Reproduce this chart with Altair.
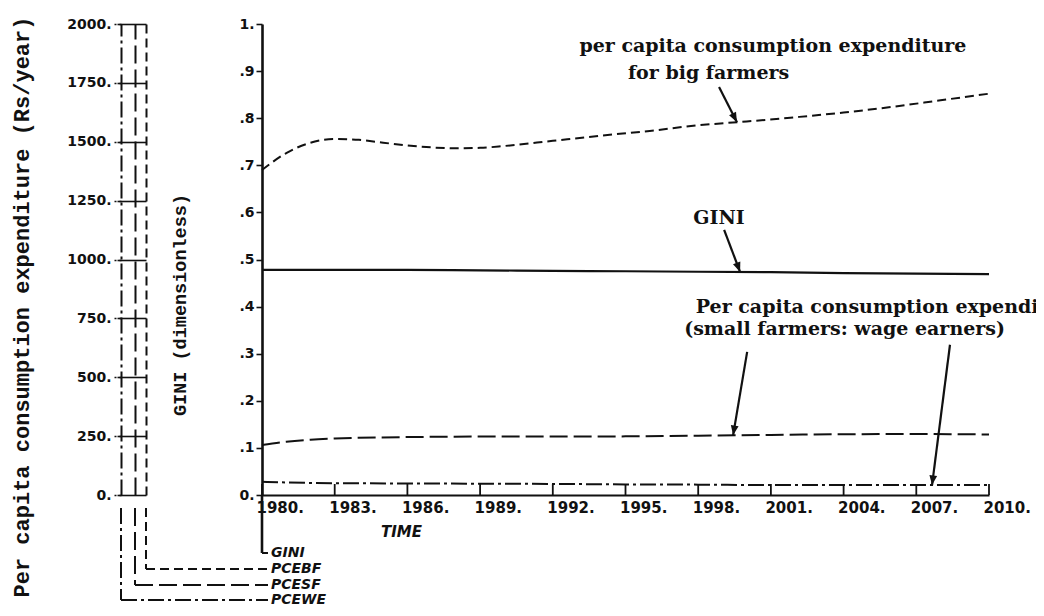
import math
import numpy as np
import pandas as pd
import altair as alt

# ---------------- data ----------------
pcebf_years = [1980, 1981, 1982, 1983, 1984, 1985, 1986, 1987, 1988, 1989, 1990,
               1992, 1994, 1996, 1998, 2000, 2002, 2004, 2006, 2008, 2010]
pcebf = [1380, 1452, 1496, 1512, 1508, 1496, 1484, 1476, 1472, 1474, 1482,
         1504, 1526, 1546, 1570, 1586, 1604, 1624, 1648, 1676, 1704]

pcesf_years = [1980, 1981, 1982, 1983, 1986, 1989, 1992, 1995, 1998, 2001, 2004, 2007, 2010]
pcesf = [212, 226, 235, 240, 246, 248, 248, 249, 252, 255, 258, 259, 257]

pcewe_years = [1980, 1983, 1986, 1989, 1992, 1995, 1998, 2001, 2004, 2007, 2010]
pcewe = [56, 50, 49, 48, 47, 45, 44, 42, 42, 42, 43]

gini_years = [1980, 1983, 1986, 1989, 1992, 1995, 1998, 2001, 2004, 2007, 2010]
gini = [0.478, 0.478, 0.478, 0.477, 0.476, 0.475, 0.474, 0.473, 0.471, 0.470, 0.469]

time_ticks = [1980, 1983, 1986, 1989, 1992, 1995, 1998, 2001, 2004, 2007, 2010]
gini_ticks = [0, 0.1, 0.2, 0.3, 0.4, 0.5, 0.6, 0.7, 0.8, 0.9, 1.0]
pce_ticks = [0, 250, 500, 750, 1000, 1250, 1500, 1750, 2000]
series_names = ["PCEBF", "PCESF", "PCEWE"]
legend_names = ["GINI", "PCEBF", "PCESF", "PCEWE"]

title_pce = "Per capita consumption expenditure (Rs/year)"
title_gini = "GINI (dimensionless)"
note_big = ["per capita consumption expenditure", "for big farmers"]
note_gini = "GINI"
note_small = ["Per capita consumption expenditure", "(small farmers:  wage earners)"]

# ---------------- layout / style ----------------
W, H = 727, 471
PAD = {"left": 254, "top": 16, "right": 47, "bottom": 113}
PX_YR = W / (2010 - 1980)
INK = "#111111"
LABEL_FONT = "DejaVu Sans"
TYPE_FONT = "DejaVu Serif"
MONO_FONT = "Liberation Mono"
DASH = {"PCEBF": [9, 5], "PCESF": [18, 6], "PCEWE": [16, 4, 3, 4]}
AX_OFF = {"PCEWE": 141, "PCESF": 127, "PCEBF": 116}

time_scale = alt.Scale(domain=[1980, 2010], nice=False, zero=False)
pce_scale = alt.Scale(domain=[0, 2000], nice=False, zero=False)
gini_scale = alt.Scale(domain=[0, 1], nice=False, zero=False)
X = alt.X("year:Q", scale=time_scale, axis=None)

pce_df = pd.concat([
    pd.DataFrame({"year": pcebf_years, "rs": pcebf, "series": "PCEBF"}),
    pd.DataFrame({"year": pcesf_years, "rs": pcesf, "series": "PCESF"}),
    pd.DataFrame({"year": pcewe_years, "rs": pcewe, "series": "PCEWE"}),
], ignore_index=True)
gini_df = pd.DataFrame({"year": gini_years, "gini": gini})


def lab_axis(**kw):
    base = dict(orient="left", grid=False, title=None, domainColor=INK, tickColor=INK,
                labelColor=INK, labelFont=LABEL_FONT, labelFontWeight="bold",
                labelFontSize=14, labelFlush=False, labelOverlap=False)
    base.update(kw)
    return alt.Axis(**base)


# PCE lines with the dash-dot scale column (labels)
pce_lines = alt.Chart(pce_df).mark_line(strokeWidth=2, color=INK, interpolate="monotone").encode(
    x=X,
    y=alt.Y("rs:Q", scale=pce_scale, axis=lab_axis(
        offset=AX_OFF["PCEWE"], values=pce_ticks,
        labelExpr="format(datum.value, 'd') + '.'",
        domainWidth=2, domainDash=DASH["PCEWE"],
        ticks=True, tickSize=8, tickWidth=1.5, tickDash=[2, 3], labelPadding=2)),
    strokeDash=alt.StrokeDash("series:N", scale=alt.Scale(domain=series_names,
                              range=[DASH[s] for s in series_names]), legend=None),
    detail="series:N",
)

col_sf = alt.Chart(pce_df).mark_line(strokeOpacity=0).encode(
    x=X,
    y=alt.Y("rs:Q", scale=pce_scale, axis=lab_axis(
        offset=AX_OFF["PCESF"], values=pce_ticks, labels=False, ticks=False,
        domainWidth=2, domainDash=DASH["PCESF"])),
    detail="series:N",
)
col_bf = alt.Chart(pce_df).mark_line(strokeOpacity=0).encode(
    x=X,
    y=alt.Y("rs:Q", scale=pce_scale, axis=lab_axis(
        offset=AX_OFF["PCEBF"], values=pce_ticks, labels=False,
        ticks=True, tickSize=29, tickWidth=1.6,
        domainWidth=2, domainDash=DASH["PCEBF"])),
    detail="series:N",
)

gini_line = alt.Chart(gini_df).mark_line(strokeWidth=2.2, color=INK, interpolate="monotone").encode(
    x=alt.X("year:Q", scale=time_scale, axis=alt.Axis(
        orient="bottom", values=time_ticks, labelExpr="datum.value + '.'", grid=False,
        ticks=False, domainColor=INK, domainWidth=2, labelColor=INK,
        labelFont=LABEL_FONT, labelFontWeight="bold", labelFontSize=15,
        labelAlign="left", labelOffset=-6, labelBaseline="top", labelPadding=5,
        labelFlush=False, labelOverlap=False,
        title="TIME", titleX=139, titleY=36, titleAlign="center", titleBaseline="middle",
        titleFont=LABEL_FONT, titleFontStyle="italic", titleFontWeight="bold",
        titleFontSize=15, titleColor=INK)),
    y=alt.Y("gini:Q", scale=gini_scale, axis=lab_axis(
        offset=0, values=gini_ticks,
        labelExpr="datum.value == 1 ? '1.' : (datum.value == 0 ? '0.' : '.' + format(datum.value * 10, '.0f'))",
        domainWidth=2.6, ticks=True, tickSize=6, tickWidth=1.6, labelPadding=2)),
)

# upward time ticks on the time axis
time_tick_marks = alt.Chart(pd.DataFrame({"year": time_ticks})).mark_rule(
    color=INK, strokeWidth=1.8).encode(x=X, y=alt.value(H), y2=alt.value(H - 11))

# annotations (positions in data units)
ann_left = pd.DataFrame({
    "text": [note_big[0], note_big[1], note_small[0], note_small[1]],
    "year": [1993.1, 1995.1, 1997.9, 1997.42],
    "val": [0.953, 0.897, 0.400, 0.352],
})
ann_center = pd.DataFrame({"text": [note_gini], "year": [1998.86], "val": [0.588]})

text_left = alt.Chart(ann_left).mark_text(
    align="left", baseline="middle", font=TYPE_FONT, fontWeight="bold", fontSize=19, color=INK
).encode(x=X, y=alt.Y("val:Q", scale=gini_scale, axis=None), text="text:N")
text_center = alt.Chart(ann_center).mark_text(
    align="center", baseline="middle", font=TYPE_FONT, fontWeight="bold", fontSize=19, color=INK
).encode(x=X, y=alt.Y("val:Q", scale=gini_scale, axis=None), text="text:N")

# arrow tips sit on the series they point to
tip_years = [1999.60, 1999.73, 1999.44, 2007.65]
tip_vals = [
    float(np.interp(tip_years[0], pcebf_years, pcebf)) / 2000,
    float(np.interp(tip_years[1], gini_years, gini)),
    float(np.interp(tip_years[2], pcesf_years, pcesf)) / 2000,
    float(np.interp(tip_years[3], pcewe_years, pcewe)) / 2000,
]
arrows = pd.DataFrame({
    "year": [1998.86, 1999.07, 2000.02, 2008.39],
    "val": [0.866, 0.563, 0.304, 0.319],
    "year2": tip_years,
    "val2": tip_vals,
})
angles = []
for _, r in arrows.iterrows():
    dxp = (r["year2"] - r["year"]) * PX_YR
    dyp = -(r["val2"] - r["val"]) * H
    angles.append(math.degrees(math.atan2(-dxp, dyp)) % 360)
arrows["ang"] = angles

arrow_shafts = alt.Chart(arrows).mark_rule(color=INK, strokeWidth=2.2).encode(
    x=X, x2="year2:Q",
    y=alt.Y("val:Q", scale=gini_scale, axis=None), y2="val2:Q")
arrow_heads = alt.Chart(arrows).mark_point(
    shape="M0,0L-0.4,-1L0.4,-1Z", filled=True, color=INK, opacity=1, size=380, strokeWidth=0
).encode(
    x=alt.X("year2:Q", scale=time_scale, axis=None),
    y=alt.Y("val2:Q", scale=gini_scale, axis=None),
    angle=alt.Angle("ang:Q", scale=None))

# DYNAMO-style legend leaders (decoration, in pixels of the plot frame)
LEAD_TOP = H + 13
ROW_Y = {"GINI": H + 58, "PCEBF": H + 74, "PCESF": H + 90, "PCEWE": H + 105}
LEAD_END = 6


def seg(x1, y1, x2, y2, dash=None, width=2.0):
    kw = dict(color=INK, strokeWidth=width)
    if dash:
        kw["strokeDash"] = dash
    return alt.Chart(pd.DataFrame({"k": [0]})).mark_rule(**kw).encode(
        x=alt.value(x1), y=alt.value(y1), x2=alt.value(x2), y2=alt.value(y2))


leaders = [seg(0, H, 0, ROW_Y["GINI"], width=2.6), seg(0, ROW_Y["GINI"], LEAD_END, ROW_Y["GINI"], width=2)]
for s in series_names:
    xs = -AX_OFF[s]
    leaders.append(seg(xs, LEAD_TOP, xs, ROW_Y[s], DASH[s]))
    leaders.append(seg(xs, ROW_Y[s], LEAD_END, ROW_Y[s], DASH[s]))

legend_df = pd.DataFrame({"name": legend_names, "py": [ROW_Y[n] for n in legend_names]})
legend_text = alt.Chart(legend_df).mark_text(
    align="left", baseline="middle", font=LABEL_FONT, fontStyle="italic", fontWeight="bold",
    fontSize=14, color=INK
).encode(x=alt.value(LEAD_END + 3), y=alt.Y("py:Q", scale=None, axis=None), text="name:N")

# rotated axis titles
t_pce = alt.Chart(pd.DataFrame({"t": [title_pce]})).mark_text(
    angle=270, align="center", baseline="middle", font=MONO_FONT, fontWeight="bold",
    fontSize=22, color=INK).encode(x=alt.value(-240), y=alt.value(283), text="t:N")
t_gini = alt.Chart(pd.DataFrame({"t": [title_gini]})).mark_text(
    angle=270, align="center", baseline="middle", font=MONO_FONT, fontWeight="bold",
    fontSize=18.5, color=INK).encode(x=alt.value(-82), y=alt.value(281), text="t:N")

chart = alt.layer(
    gini_line, pce_lines, col_sf, col_bf, time_tick_marks,
    arrow_shafts, arrow_heads, text_left, text_center,
    *leaders, legend_text, t_pce, t_gini,
).resolve_scale(y="independent").resolve_axis(x="independent", y="independent").properties(
    width=W, height=H, padding=PAD, autosize=alt.AutoSizeParams(type="none"),
    background="white",
).configure_view(stroke=None)

chart.save("out.html", embed_options={"renderer": "svg", "actions": False})
